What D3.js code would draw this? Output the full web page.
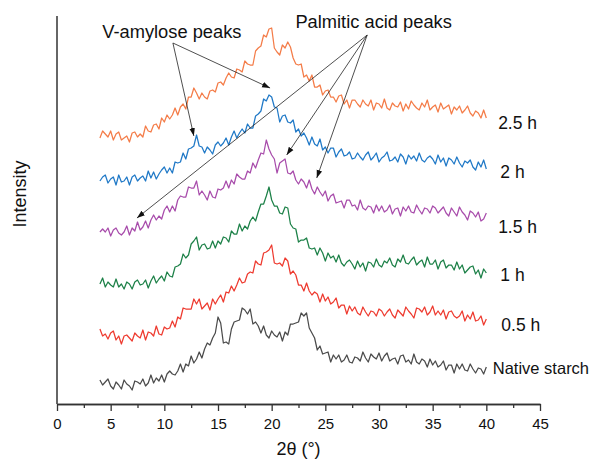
<!DOCTYPE html>
<html>
<head>
<meta charset="utf-8">
<script src="https://cdn.jsdelivr.net/npm/d3@7"></script>
<style>
  body { margin: 0; background: #fff; }
  text { font-family: "Liberation Sans", Arial, sans-serif; fill: #111; }
</style>
</head>
<body>
<svg id="xrd-chart"></svg>
<script>
// 2-theta grid of the scans (deg)
const twoTheta = d3.range(4, 40.001, 0.25);

// intensities (arbitrary units, stacked offsets)
const nativeStarch = [19,14,17,20,13,10,17,14,10,19, 15,13,9,18,17,15,20,13,16,24, 16,21,18,24,17,25,28,25,24,28,
  35,27,35,33,43,36,40,47,41,50, 56,54,61,66,82,76,56,57,55,70, 77,78,79,91,89,85,90,75,77,73,
  66,73,64,61,68,64,62,67,58,67, 64,75,75,76,77,86,83,86,71,66, 61,49,53,45,46,47,37,44,40,44,
  37,39,44,37,36,42,41,38,47,41, 37,45,42,40,46,38,43,46,38,40, 41,35,43,44,37,39,35,45,37,35,
  40,38,32,40,34,38,32,34,38,29, 34,34,26,35,30,35,29,28,35,30, 26,31,30,25,32];
const h05 = [70,63,65,60,66,68,59,63,55,63, 64,61,58,66,63,61,69,59,67,66, 63,73,65,64,72,70,71,78,72,82,
  80,91,90,90,90,100,95,100,90,93, 96,89,100,95,100,104,97,107,106,113, 108,114,121,116,117,125,127,126,138,135,
  134,146,147,149,154,136,135,136,133,141, 138,125,128,124,114,114,108,116,108,104, 107,105,97,105,98,102,95,97,101,91,
  94,94,85,93,88,92,86,84,92,87, 83,88,87,83,90,88,83,87,90,84, 81,89,86,83,92,88,85,81,91,90,
  87,92,84,87,93,84,88,84,89,80, 87,88,83,81,83,88,78,84,80,87, 78,79,83,74,80];
const h1 = [115,121,112,117,114,112,120,112,115,110, 117,115,110,117,119,114,115,119,111,118, 123,116,120,123,118,127,123,122,132,133,
  135,145,141,144,155,158,162,149,154,155, 150,151,158,151,158,155,162,161,157,168, 165,165,175,168,173,170,178,182,178,187,
  195,195,203,212,199,193,193,186,185,192, 191,175,171,170,157,159,159,161,151,150, 151,144,151,146,138,146,141,143,137,144,
  136,133,137,139,135,130,138,132,136,128, 137,136,132,140,134,132,138,136,141,134, 132,140,137,144,136,135,139,142,134,137,
  139,132,142,135,135,139,130,137,139,131, 134,134,129,137,130,134,126,129,132,133, 125,129,121,130,126];
const h15 = [167,170,167,171,163,169,171,166,164,167, 173,164,171,168,177,169,172,178,171,179, 184,179,183,180,189,193,187,193,188,199,
  203,202,202,212,211,211,218,204,208,204, 199,208,202,201,210,209,211,218,211,219, 215,225,222,220,220,228,226,236,231,239,
  246,245,259,250,244,240,226,236,238,240, 226,225,228,219,215,220,217,211,219,210, 205,212,207,203,208,198,203,205,196,197,
  198,191,199,199,193,194,189,199,191,189, 193,192,186,194,188,193,187,189,194,185, 190,191,183,192,188,193,187,186,194,189,
  185,191,190,186,193,191,186,189,192,186, 183,191,187,183,192,187,184,179,188,186, 182,187,178,180,186];
const h2 = [218,222,224,216,220,222,214,224,217,218, 222,214,222,224,218,221,223,218,228,221, 227,220,225,229,232,226,231,226,237,236,
  237,246,240,250,251,253,264,253,252,246, 252,249,245,254,257,253,256,261,254,262, 268,261,266,270,266,275,271,271,283,285,
  288,300,298,304,302,292,291,277,283,284, 277,276,279,267,270,263,266,261,254,262, 255,253,260,249,252,246,251,251,242,247,
  250,243,244,247,240,241,246,242,239,244, 247,239,242,246,237,241,243,247,238,239, 242,237,245,242,235,244,240,243,238,246,
  239,237,241,243,240,235,244,237,241,233, 241,239,235,242,236,232,238,236,239,232, 229,237,232,239,230];
const h25 = [261,268,265,262,268,259,265,267,259,261, 263,257,266,267,262,265,262,273,268,267, 274,275,270,281,277,284,280,284,291,284,
  292,295,290,302,302,311,306,300,306,302, 300,308,309,307,316,317,314,321,326,322, 321,330,329,327,338,335,334,334,348,351,
  353,364,362,370,371,351,347,344,354,351, 357,352,341,335,334,335,322,324,318,324, 312,312,314,304,308,309,302,302,297,303,
  304,295,299,291,299,299,295,292,299,295, 293,299,289,296,295,291,300,291,289,296, 293,292,297,288,295,290,298,294,291,289,
  296,292,299,289,292,294,287,296,290,292, 294,285,292,289,293,286,289,293,286,283, 288,286,281,289,281];

const seriesNames = ["Native starch", "0.5 h", "1 h", "1.5 h", "2 h", "2.5 h"];
const seriesValues = [nativeStarch, h05, h1, h15, h2, h25];
const xTickValues = d3.range(0, 46, 5);
const xMinorValues = d3.range(2.5, 45, 5);

class XrdChart {
  constructor(_config, _data) {
    this.config = {
      parentElement: _config.parentElement,
      containerWidth: 590,
      containerHeight: 464,
      margin: {top: 16, right: 50, bottom: 60, left: 57},
      colors: ["#4b4b4b", "#ee3b30", "#1d8148", "#a84cab", "#2079c7", "#f47c48"],
      // label anchors in data units [2theta, intensity]
      labelPos: [[40.6, 31], [41.4, 74], [41.3, 124], [41.1, 172], [41.3, 227], [41.1, 276]],
      annotations: [
        {text: "V-amylose peaks", at: [10.7, 368], from: [10.8, 356], to: [[12.75, 263], [19.85, 311]]},
        {text: "Palmitic acid peaks", at: [29.5, 378], from: [28.9, 364], to: [[7.45, 181], [21.4, 244], [24.2, 221]]}
      ]
    };
    this.data = _data;
    this.initVis();
  }

  initVis() {
    let vis = this;
    vis.width = vis.config.containerWidth - vis.config.margin.left - vis.config.margin.right;
    vis.height = vis.config.containerHeight - vis.config.margin.top - vis.config.margin.bottom;

    vis.xScale = d3.scaleLinear().domain([0, 45]).range([0, vis.width]);
    vis.yScale = d3.scaleLinear().domain([-5, 383]).range([vis.height, 0]);

    vis.xAxis = d3.axisBottom(vis.xScale)
        .tickValues(xTickValues)
        .tickSize(7)
        .tickPadding(7)
        .tickSizeOuter(0);
    vis.xMinor = d3.axisBottom(vis.xScale)
        .tickValues(xMinorValues)
        .tickSize(4)
        .tickFormat("")
        .tickSizeOuter(0);

    vis.svg = d3.select(vis.config.parentElement)
        .attr("width", vis.config.containerWidth)
        .attr("height", vis.config.containerHeight);

    vis.chart = vis.svg.append("g")
        .attr("transform", `translate(${vis.config.margin.left},${vis.config.margin.top})`);

    let defs = vis.svg.append("defs");
    defs.append("marker")
        .attr("id", "arrowhead")
        .attr("viewBox", "0 0 10 10")
        .attr("refX", 10).attr("refY", 5)
        .attr("markerWidth", 8).attr("markerHeight", 8)
        .attr("markerUnits", "userSpaceOnUse")
        .attr("orient", "auto")
      .append("path")
        .attr("d", "M0,1.5 L10,5 L0,8.5 Z")
        .attr("fill", "#111");

    vis.renderVis();
  }

  renderVis() {
    let vis = this;

    let line = d3.line()
        .x((d, i) => vis.xScale(twoTheta[i]))
        .y(d => vis.yScale(d));

    vis.chart.selectAll(".trace")
        .data(vis.data)
      .join("path")
        .attr("class", "trace")
        .attr("fill", "none")
        .attr("stroke", (d, i) => vis.config.colors[i])
        .attr("stroke-width", 1.25)
        .attr("stroke-linejoin", "round")
        .attr("d", d => line(d.slice(0, twoTheta.length)));

    vis.chart.selectAll(".series-label")
        .data(seriesNames)
      .join("text")
        .attr("class", "series-label")
        .attr("x", (d, i) => vis.xScale(vis.config.labelPos[i][0]))
        .attr("y", (d, i) => vis.yScale(vis.config.labelPos[i][1]))
        .attr("dy", "0.36em")
        .style("font-size", (d, i) => i === 0 ? "16.5px" : "17.5px")
        .text(d => d);

    // annotations with arrows
    vis.config.annotations.forEach(a => {
      vis.chart.append("text")
          .attr("x", vis.xScale(a.at[0]))
          .attr("y", vis.yScale(a.at[1]))
          .attr("dy", "0.36em")
          .attr("text-anchor", "middle")
          .style("font-size", "18.3px")
          .text(a.text);
      a.to.forEach(t => {
        vis.chart.append("line")
            .attr("x1", vis.xScale(a.from[0]))
            .attr("y1", vis.yScale(a.from[1]))
            .attr("x2", vis.xScale(t[0]))
            .attr("y2", vis.yScale(t[1]))
            .attr("stroke", "#222")
            .attr("stroke-width", 0.8)
            .attr("marker-end", "url(#arrowhead)");
      });
    });

    // axes
    let xAxisG = vis.chart.append("g")
        .attr("class", "axis x-axis")
        .attr("transform", `translate(0,${vis.height})`)
        .call(vis.xAxis);
    let xMinorG = vis.chart.append("g")
        .attr("transform", `translate(0,${vis.height})`)
        .call(vis.xMinor);
    [xAxisG, xMinorG].forEach(g => {
      g.select(".domain").attr("stroke", "#333").attr("stroke-width", 1.5);
      g.selectAll(".tick line").attr("stroke", "#333").attr("stroke-width", 1.3);
    });
    xAxisG.selectAll(".tick text")
        .style("font-size", "15px")
        .attr("fill", "#111");

    vis.chart.append("line")
        .attr("x1", 0).attr("x2", 0)
        .attr("y1", 0).attr("y2", vis.height)
        .attr("stroke", "#333")
        .attr("stroke-width", 1.5);

    vis.chart.append("text")
        .attr("x", vis.width / 2)
        .attr("y", vis.height + 51)
        .attr("text-anchor", "middle")
        .style("font-size", "18px")
        .text("2θ (°)");

    vis.chart.append("text")
        .attr("transform", `translate(${20 - vis.config.margin.left},${vis.height / 2 - 16}) rotate(-90)`)
        .attr("dy", "0.36em")
        .attr("text-anchor", "middle")
        .style("font-size", "18px")
        .text("Intensity");
  }
}

new XrdChart({parentElement: "#xrd-chart"}, seriesValues);
</script>
</body>
</html>
